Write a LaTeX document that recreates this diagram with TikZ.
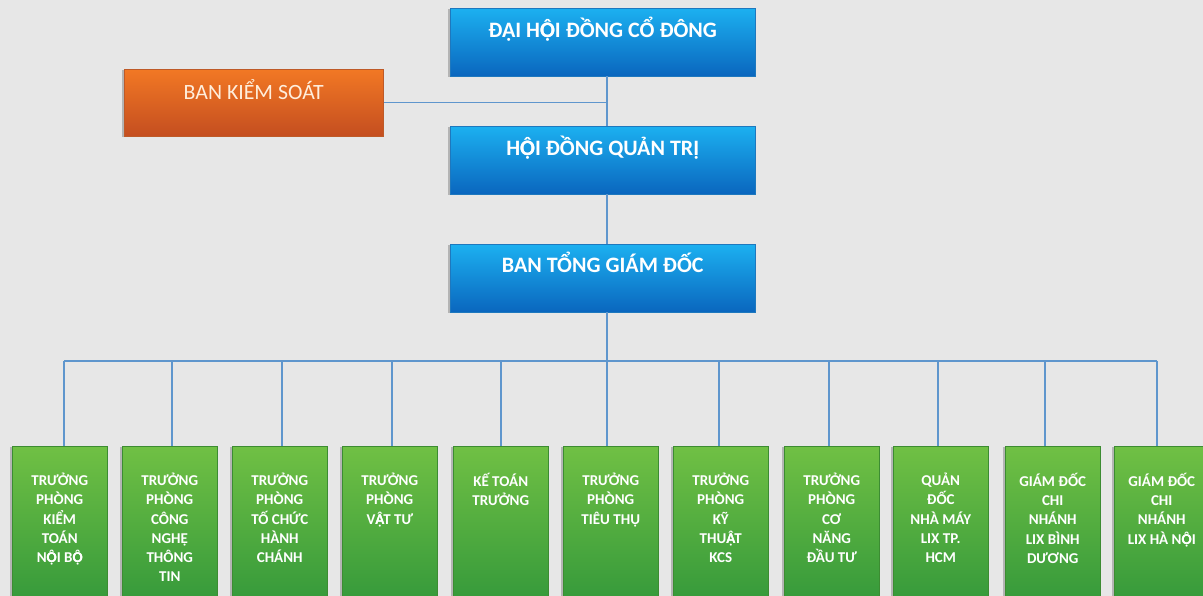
\documentclass[tikz,border=0pt]{standalone}
\usepackage{fontspec}
\setmainfont{Carlito}
\usetikzlibrary{shadows,calc}
\newcommand{\Ocir}{\rlap{Ọ}Ô}
\newcommand{\Acir}{\rlap{Ạ}Â}
\definecolor{bgc}{RGB}{231,231,231}
\definecolor{linec}{RGB}{95,150,205}
\definecolor{blueT}{RGB}{28,176,240}
\definecolor{blueM}{RGB}{14,160,230}
\definecolor{blueB}{RGB}{10,102,190}
\definecolor{blueD}{RGB}{30,120,190}
\definecolor{greenT}{RGB}{112,192,68}
\definecolor{greenM}{RGB}{78,178,62}
\definecolor{greenB}{RGB}{48,150,58}
\definecolor{greenD}{RGB}{60,140,50}
\definecolor{orT}{RGB}{242,120,36}
\definecolor{orM}{RGB}{236,112,32}
\definecolor{orB}{RGB}{196,78,32}
\definecolor{orD}{RGB}{190,90,40}
\definecolor{ortext}{RGB}{255,238,220}
\tikzset{
  x=1pt,y=1pt,
  boxshadow/.style={drop shadow={shadow xshift=-2.5pt,shadow yshift=-1pt,fill=black,opacity=0.22}},
  bluebox/.style={rectangle,anchor=north west,minimum width=305pt,minimum height=68pt,inner sep=0pt,
    top color=blueT,middle color=blueM,bottom color=blueB,draw=blueD,line width=0.5pt,boxshadow},
  orangebox/.style={rectangle,anchor=north west,minimum width=259pt,minimum height=67pt,inner sep=0pt,
    top color=orT,middle color=orM,bottom color=orB,draw=orD,line width=0.5pt,boxshadow},
  greenbox/.style={rectangle,anchor=north west,minimum width=95pt,minimum height=170pt,inner sep=0pt,
    top color=greenT,middle color=greenM,bottom color=greenB,draw=greenD,line width=0.5pt,boxshadow},
  bluetext/.style={anchor=base,inner sep=0pt,text=white,font=\bfseries\fontsize{22}{26}\selectfont},
  orangetext/.style={anchor=base,inner sep=0pt,text=ortext,font=\fontsize{21.8}{25}\selectfont},
  greentext/.style={anchor=north,inner sep=0pt,text=white,align=center,font=\bfseries\fontsize{15}{19.2}\selectfont},
  conn/.style={draw=linec,line width=1.3pt},
}
\begin{document}
\begin{tikzpicture}
\clip (0,0) rectangle (1203,-596);
\fill[bgc] (0,0) rectangle (1203,-596);
% top boxes
\node[bluebox] (b1) at (450,-8) {};
\node[bluebox] (b2) at (450,-126) {};
\node[bluebox] (b3) at (450,-244) {};
\node[orangebox] (o1) at (124,-69) {};
\node[bluetext] (t1) at ($(b1.north)+(0,-30)$) {ĐẠI H\Ocir I ĐỒNG CỔ ĐÔNG};
\node[bluetext] (t2) at ($(b2.north)+(0,-30)$) {H\Ocir I ĐỒNG QUẢN TRỊ};
\node[bluetext] (t3) at ($(b3.north)+(0,-29)$) {BAN TỔNG GIÁM ĐỐC};
\node[orangetext] (ot) at ($(o1.north)+(0,-31)$) {BAN KIỂM SOÁT};
% green boxes
\foreach \i/\xx in {1/12,2/122,3/232,4/342,5/453,6/563,7/673,8/784,9/893,10/1005,11/1114}{
  \node[greenbox] (g\i) at (\xx,-446) {};
}
\node[greentext] (gt1) at ($(g1.north)+(0,-27)$) {TRƯỞNG\\PHÒNG\\KIỂM\\TOÁN\\N\Ocir I B\Ocir};
\node[greentext] (gt2) at ($(g2.north)+(0,-27)$) {TRƯỞNG\\PHÒNG\\CÔNG\\NGHỆ\\THÔNG\\TIN};
\node[greentext] (gt3) at ($(g3.north)+(0,-27)$) {TRƯỞNG\\PHÒNG\\TỐ CHỨC\\HÀNH\\CHÁNH};
\node[greentext] (gt4) at ($(g4.north)+(0,-27)$) {TRƯỞNG\\PHÒNG\\V\Acir T TƯ};
\node[greentext] (gt5) at ($(g5.north)+(0,-27)$) {KẾ TOÁN\\TRƯỞNG};
\node[greentext] (gt6) at ($(g6.north)+(0,-27)$) {TRƯỞNG\\PHÒNG\\TIÊU THỤ};
\node[greentext] (gt7) at ($(g7.north)+(0,-27)$) {TRƯỞNG\\PHÒNG\\KỸ\\THU\Acir T\\KCS};
\node[greentext] (gt8) at ($(g8.north)+(0,-27)$) {TRƯỞNG\\PHÒNG\\CƠ\\NĂNG\\ĐẦU TƯ};
\node[greentext] (gt9) at ($(g9.north)+(0,-27)$) {QUẢN\\ĐỐC\\NHÀ MÁY\\LIX TP.\\HCM};
\node[greentext] (gt10) at ($(g10.north)+(0,-27)$) {GIÁM ĐỐC\\CHI\\NHÁNH\\LIX BÌNH\\DƯƠNG};
\node[greentext] (gt11) at ($(g11.north)+(0,-27)$) {GIÁM ĐỐC\\CHI\\NHÁNH\\LIX HÀ N\Ocir I};
% connectors
\coordinate (m) at (607,-361);
\foreach \i/\xx in {1/64,2/172,3/282,4/392,5/501,6/607,7/719,8/829,9/938,10/1045,11/1157}{
  \coordinate (c\i) at (\xx,-361);
  \draw[conn] (c\i) -- (c\i |- g\i.north);
}
\draw[conn] (c1) -- (c11);
\draw[conn] (b1.south -| m) -- (b2.north -| m);
\draw[conn] (b2.south -| m) -- (b3.north -| m);
\draw[conn] (b3.south -| m) -- (m);
\draw[conn] (o1.east) -- (o1.east -| m);
\end{tikzpicture}
\end{document}
